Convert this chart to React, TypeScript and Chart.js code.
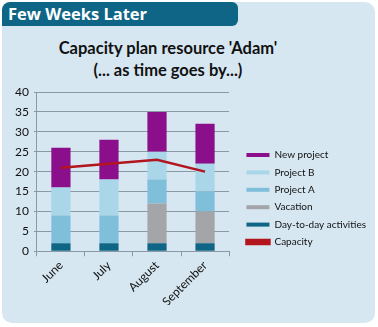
import React, { useEffect, useRef } from "react";
import { Chart, registerables } from "chart.js";
Chart.register(...registerables);

const months = ["June", "July", "August", "September"];
const dayToDay = [2, 2, 2, 2];
const vacation = [0, 0, 10, 8];
const projectA = [7, 7, 6, 5];
const projectB = [7, 9, 7, 7];
const newProject = [10, 10, 10, 10];
const capacity = [21, 22, 23, 20];
const legendOrder = ["New project", "Project B", "Project A", "Vacation", "Day-to-day activities", "Capacity"];

const FONT = "Lato, 'Open Sans', sans-serif";

export default function App() {
  const ref = useRef<HTMLCanvasElement>(null);
  useEffect(() => {
    document.body.style.margin = "0";
    const bar = (label: string, data: number[], color: string) => ({
      type: "bar" as const,
      label,
      data,
      backgroundColor: color,
      borderColor: color,
      borderWidth: 0,
      stack: "s",
      categoryPercentage: 1,
      barPercentage: 0.4,
    });
    const chart = new Chart(ref.current!, {
      type: "bar",
      data: {
        labels: months,
        datasets: [
          {
            type: "line" as const,
            label: "Capacity",
            data: capacity,
            borderColor: "#b3151f",
            backgroundColor: "#b3151f",
            borderWidth: 2.5,
            pointRadius: 0,
            stack: "c",
            tension: 0,
          } as any,
          bar("Day-to-day activities", dayToDay, "#0e6585"),
          bar("Vacation", vacation, "#a3a5a8"),
          bar("Project A", projectA, "#80bfda"),
          bar("Project B", projectB, "#a9d6e8"),
          bar("New project", newProject, "#8b0f8a"),
        ],
      },
      options: {
        animation: false,
        responsive: false,
        layout: { padding: { top: 92, left: 10, right: 2, bottom: 22 } },
        plugins: {
          title: { display: false },
          tooltip: { enabled: false },
          legend: {
            position: "right",
            align: "center",
            maxWidth: 160,
            labels: {
              boxWidth: 23,
              boxHeight: 4,
              padding: 7.4,
              color: "#111",
              font: { family: FONT, size: 10 },
              sort: (a: any, b: any) => legendOrder.indexOf(a.text) - legendOrder.indexOf(b.text),
            },
          },
        },
        scales: {
          x: {
            stacked: true,
            offset: true,
            grid: { display: true, drawOnChartArea: false, tickLength: 5, color: "#8a9aa4" },
            border: { color: "#8a9aa4" },
            ticks: { minRotation: 45, maxRotation: 45, color: "#111", font: { family: FONT, size: 12 }, padding: 2 },
            afterFit: (s: any) => { s.height -= 6; },
          },
          y: {
            stacked: true,
            min: 0,
            max: 40,
            grid: { color: "#8a9aa4", tickLength: 3 },
            border: { color: "#8a9aa4" },
            ticks: { stepSize: 5, color: "#111", font: { family: FONT, size: 12 }, padding: 5 },
          },
          y2: {
            position: "right",
            display: true,
            grid: { display: false },
            border: { display: false },
            ticks: { display: false },
            afterFit: (s: any) => { s.width = 10; },
          },
        },
      } as any,
    });
    return () => chart.destroy();
  }, []);
  return (
    <div style={{ position: "fixed", left: 0, top: 0, width: 378, height: 327, background: "#fff" }}>
      <div style={{ position: "absolute", left: 2, top: 2, width: 373, height: 321, background: "#d6e7f1", borderRadius: 10 }} />
      <div style={{ position: "absolute", left: 2, top: 2, width: 236, height: 24, background: "#0f6585", borderTopLeftRadius: 8, borderTopRightRadius: 6, borderBottomRightRadius: 6 }} />
      <div style={{ position: "absolute", left: 8, top: 2, height: 24, lineHeight: "24px", color: "#fff", fontFamily: "'Open Sans', sans-serif", fontWeight: 700, fontSize: 16.5 }}>Few Weeks Later</div>
      <div style={{ position: "absolute", left: 0, top: 37, width: 336, textAlign: "center", fontFamily: FONT, fontWeight: 700, fontSize: 16.5, lineHeight: "22px", color: "#111" }}>
        Capacity plan resource 'Adam'<br />(... as time goes by...)
      </div>
      <canvas ref={ref} width={378} height={327} style={{ position: "absolute", left: 0, top: 0 }} />
    </div>
  );
}
